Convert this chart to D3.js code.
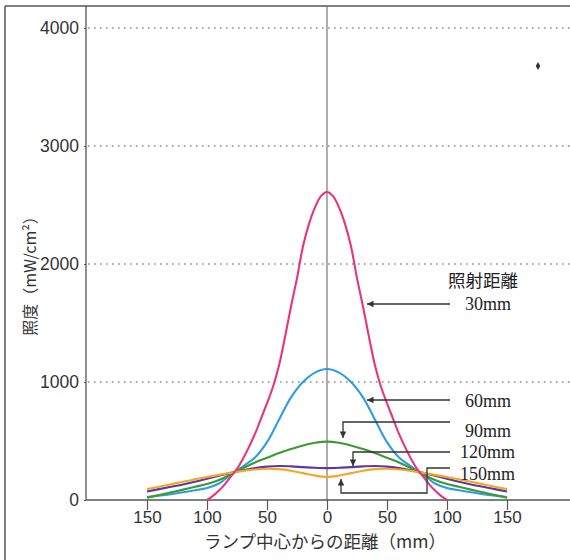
<!DOCTYPE html>
<html><head><meta charset="utf-8">
<script src="https://cdn.jsdelivr.net/npm/d3@7"></script>
<style>body{margin:0;background:#fff}svg{display:block}</style>
</head><body><svg id="c" width="570" height="560"></svg>
<script>
// ---- data ----
const yTicks = [0, 1000, 2000, 3000, 4000];
const xTicks = [-150, -100, -50, 0, 50, 100, 150];
const seriesNames = ["30mm", "60mm", "90mm", "120mm", "150mm"];
const dist30 = [-100,-95,-90,-85,-80,-75,-70,-65,-60,-55,-50,-45,-40,-35,-30,-25,-20,-15,-10,-5,0,5,10,15,20,25,30,35,40,45,50,55,60,65,70,75,80,85,90,95,100];
const val30 = [0,35,80,135,200,265,350,450,560,690,820,960,1140,1380,1640,1880,2150,2340,2480,2575,2610,2575,2480,2340,2150,1880,1640,1380,1140,960,820,690,560,450,350,265,200,135,80,35,0];
const dist = [-150,-140,-130,-120,-110,-100,-90,-80,-70,-60,-50,-40,-30,-20,-10,0,10,20,30,40,50,60,70,80,90,100,110,120,130,140,150];
const val60 = [25,37,50,65,82,102,140,215,285,360,490,680,870,1000,1080,1110,1080,1000,870,680,490,360,285,215,140,102,82,65,50,37,25];
const val90 = [20,42,65,88,112,135,170,218,270,318,358,398,432,462,485,495,485,462,432,398,358,318,270,218,170,135,112,88,65,42,20];
const val120 = [72,92,112,132,155,180,205,230,252,270,283,288,285,279,273,270,273,279,285,288,283,270,252,230,205,180,155,132,112,92,72];
const val150 = [92,113,134,155,175,195,213,230,247,259,265,262,248,228,207,195,207,228,248,262,265,259,247,230,213,195,175,155,134,113,92];
const colors = ["#e6357c", "#2f9de3", "#3d9a2e", "#5a3aa6", "#f6a623"];

const svg = d3.select("#c");
const x = d3.scaleLinear().domain([-150, 150]).range([147, 507]);
const y = d3.scaleLinear().domain([0, 4000]).range([500, 28]);

// frame
svg.append("line").attr("x1",5).attr("x2",570).attr("y1",6).attr("y2",6).attr("stroke","#555").attr("stroke-width",1.5);
svg.append("line").attr("x1",5).attr("x2",5).attr("y1",6).attr("y2",560).attr("stroke","#555").attr("stroke-width",1.5);

// grid
svg.append("g").selectAll("line").data(yTicks.filter(d=>d>0)).join("line")
  .attr("x1",88).attr("x2",570).attr("y1",d=>y(d)).attr("y2",d=>y(d))
  .attr("stroke","#888").attr("stroke-width",1.5).attr("stroke-dasharray","1.5,4.5");

// zero line
svg.append("line").attr("x1",x(0)).attr("x2",x(0)).attr("y1",6).attr("y2",500).attr("stroke","#777").attr("stroke-width",1.2);

// y axis
const ya = svg.append("g").attr("transform","translate(86,0)")
  .call(d3.axisLeft(y).tickValues(yTicks).tickSize(2).tickPadding(5).tickFormat(d3.format("d")));
ya.select(".domain").remove();
ya.selectAll("line").attr("stroke","#555");
ya.selectAll("text").attr("font-family","Liberation Sans, Arial, sans-serif").attr("font-size",17.5).attr("fill","#333");
svg.append("line").attr("x1",86).attr("x2",86).attr("y1",6).attr("y2",500).attr("stroke","#555").attr("stroke-width",1.3);

// x axis
const xa = svg.append("g").attr("transform","translate(0,500)")
  .call(d3.axisBottom(x).tickValues(xTicks).tickSize(10).tickPadding(1).tickFormat(d=>Math.abs(d)));
xa.select(".domain").remove();
xa.selectAll("line").attr("stroke","#555").attr("stroke-width",1.2);
xa.selectAll("text").attr("font-family","Liberation Sans, Arial, sans-serif").attr("font-size",17).attr("fill","#333");
svg.append("line").attr("x1",86).attr("x2",570).attr("y1",500).attr("y2",500).attr("stroke","#555").attr("stroke-width",1.3);

// curves
const line = d3.line().x(d=>x(d[0])).y(d=>y(d[1])).curve(d3.curveCatmullRom.alpha(0.5));
const series = [
  d3.zip(dist30, val30), d3.zip(dist, val60), d3.zip(dist, val90), d3.zip(dist, val120), d3.zip(dist, val150)
];
[1,2,3,4,0].forEach(i=>{
  svg.append("path").attr("d", line(series[i])).attr("fill","none")
    .attr("stroke", colors[i]).attr("stroke-width", 2.1);
});

// annotations
svg.append("defs").append("marker").attr("id","ah").attr("viewBox","0 0 10 10")
  .attr("refX",10).attr("refY",5).attr("markerWidth",7).attr("markerHeight",5).attr("orient","auto-start-reverse")
  .append("path").attr("d","M0,0L10,5L0,10z").attr("fill","#333");
const ann = svg.append("g").attr("fill","none").attr("stroke","#333").attr("stroke-width",1.3);
ann.append("path").attr("d","M450,304H367").attr("marker-end","url(#ah)");
ann.append("path").attr("d","M450,400H367").attr("marker-end","url(#ah)");
ann.append("path").attr("d","M450,422H343V438").attr("marker-end","url(#ah)");
ann.append("path").attr("d","M450,452H353V466").attr("marker-end","url(#ah)");
ann.append("path").attr("d","M450,468H427V493H341V479").attr("marker-end","url(#ah)");

svg.append("text").attr("x",518).attr("y",287).attr("text-anchor","end")
  .attr("font-family","Noto Sans CJK JP").attr("font-size",17.5).attr("fill","#222").text("照射距離");
const labY = [310, 407, 437, 458, 480];
const labX = [511, 511, 511, 515, 515];
svg.append("g").selectAll("text").data(seriesNames).join("text")
  .attr("x",(d,i)=>labX[i]).attr("y",(d,i)=>labY[i]).attr("text-anchor","end")
  .attr("font-family","Liberation Serif, serif").attr("font-size",18).attr("fill","#222").text(d=>d);

// axis titles
svg.append("text").attr("transform","translate(36,272) rotate(-90)").attr("text-anchor","middle")
  .attr("font-family","Noto Sans CJK JP").attr("font-size",16).attr("fill","#333").text("照度（mW/cm²）");
svg.append("text").attr("x",325).attr("y",548).attr("text-anchor","middle")
  .attr("font-family","Noto Sans CJK JP").attr("font-size",17.5).attr("fill","#333").text("ランプ中心からの距離（mm）");

// small mark
svg.append("path").attr("transform","translate(538,66)").attr("d", d3.symbol(d3.symbolDiamond, 18)()).attr("fill","#333");
</script></body></html>
